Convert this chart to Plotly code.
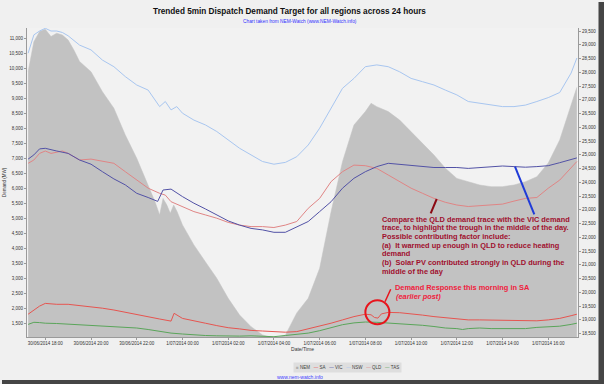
import plotly.graph_objects as go

# ---------------- data ----------------
NEM_TIME = ["30 17:15","30 17:30","30 17:45","30 18:00","30 18:15","30 18:30","30 18:45","30 19:00","30 19:15","30 19:30",
            "30 20:00","30 20:30","30 21:00","30 21:30","30 22:00","30 22:30","30 22:48","30 23:00","30 23:09","30 23:19",
            "30 23:28","30 23:37","30 23:46","01 00:00","01 00:30","01 01:00","01 01:30","01 02:00","01 02:30","01 03:00",
            "01 03:30","01 04:00","01 04:30","01 05:00","01 05:30","01 06:00","01 06:30","01 07:00","01 07:30","01 08:00",
            "01 08:15","01 08:30","01 09:00","01 09:30","01 10:00","01 10:30","01 11:00","01 11:30","01 12:00","01 12:30",
            "01 13:00","01 13:30","01 14:00","01 14:30","01 15:00","01 15:30","01 16:00","01 16:30","01 17:00","01 17:15"]
NEM_MW = [28020, 29110, 29480, 29560, 29300, 29420, 29350, 29170, 28810, 28390,
          28020, 27290, 26690, 25720, 24870, 23900, 23290, 22810, 23410, 23170,
          22870, 23170, 22930, 22450, 21720, 21110, 20510, 19780, 19170, 18750,
          18450, 18330, 18440, 19250, 19780, 20870, 22930, 24750, 26080, 26570,
          26870, 26750, 26570, 26260, 25840, 25420, 24990, 24510, 24140, 24020,
          23900, 23840, 23840, 23900, 24020, 24200, 24700, 25540, 26800, 27450]

NSW_TIME = ["30 17:15","30 17:30","30 17:45","30 18:00","30 18:15","30 18:30","30 18:45","30 19:00","30 19:30","30 20:00",
            "30 20:30","30 21:00","30 21:30","30 22:00","30 22:30","30 23:00","30 23:15","30 23:30","30 23:45","01 00:00",
            "01 00:30","01 01:00","01 01:30","01 02:00","01 02:30","01 03:00","01 03:30","01 04:00","01 04:30","01 05:00",
            "01 05:30","01 06:00","01 06:30","01 07:00","01 07:30","01 08:00","01 08:30","01 09:00","01 09:30","01 10:00",
            "01 10:30","01 11:00","01 11:30","01 12:00","01 12:30","01 13:00","01 13:30","01 14:00","01 14:30","01 15:00",
            "01 15:30","01 16:00","01 16:30","01 17:00","01 17:15"]
NSW_MW = [10510, 11120, 11250, 11340, 11250, 11250, 11200, 11090, 10780, 10620,
          10280, 10060, 9730, 9450, 9280, 8730, 8900, 8620, 8730, 8510,
          8280, 8120, 7900, 7620, 7340, 7120, 6900, 6810, 6870, 7060,
          7450, 8010, 8670, 9340, 9670, 10060, 10120, 10060, 9890, 9670,
          9560, 9450, 9280, 9120, 8900, 8840, 8780, 8730, 8730, 8780,
          8900, 9030, 9200, 9850, 10350]

VIC_TIME = ["30 17:15","30 17:30","30 17:45","30 18:00","30 18:30","30 19:00","30 19:30","30 20:00","30 20:30","30 21:00",
            "30 21:30","30 22:00","30 22:30","30 22:55","30 23:09","30 23:30","01 00:00","01 00:30","01 01:00","01 01:30",
            "01 02:00","01 02:30","01 03:00","01 03:30","01 04:00","01 04:30","01 05:00","01 05:30","01 06:00","01 06:30",
            "01 07:00","01 07:30","01 08:00","01 08:30","01 09:00","01 09:30","01 10:00","01 10:30","01 11:00","01 11:30",
            "01 12:00","01 12:30","01 13:00","01 13:30","01 14:00","01 14:30","01 15:00","01 15:30","01 16:00","01 16:30",
            "01 17:00","01 17:15"]
VIC_MW = [6980, 7120, 7320, 7340, 7250, 7170, 6950, 6810, 6560, 6320,
          6120, 5840, 5700, 5570, 5950, 5980, 5730, 5510, 5320, 5120,
          4920, 4780, 4670, 4620, 4540, 4540, 4730, 4900, 5230, 5560,
          6010, 6340, 6560, 6730, 6840, 6810, 6760, 6730, 6700, 6700,
          6700, 6670, 6700, 6730, 6750, 6730, 6710, 6730, 6760, 6860,
          6960, 7020]

QLD_TIME = ["30 17:15","30 17:30","30 17:45","30 18:00","30 18:15","30 18:30","30 18:45","30 19:00","30 19:30","30 20:00",
            "30 20:30","30 21:00","30 21:30","30 22:00","30 22:30","30 23:00","30 23:15","30 23:30","01 00:00","01 00:30",
            "01 01:00","01 01:30","01 02:00","01 02:30","01 03:00","01 03:30","01 04:00","01 04:30","01 05:00","01 05:30",
            "01 06:00","01 06:30","01 07:00","01 07:30","01 08:00","01 08:30","01 09:00","01 09:30","01 10:00","01 10:30",
            "01 11:00","01 11:30","01 12:00","01 12:30","01 13:00","01 13:30","01 14:00","01 14:30","01 15:00","01 15:30",
            "01 16:00","01 16:30","01 17:00","01 17:15"]
QLD_MW = [6840, 6950, 7170, 7250, 7170, 7210, 7250, 7170, 6950, 6980,
          6900, 6840, 6560, 6280, 6010, 5840, 5780, 5560, 5400, 5230,
          5120, 5010, 4870, 4780, 4730, 4730, 4700, 4780, 4900, 5340,
          5670, 6230, 6560, 6780, 6760, 6670, 6450, 6230, 6010, 5840,
          5670, 5540, 5450, 5400, 5430, 5450, 5480, 5580, 5670, 5700,
          6010, 6280, 6670, 6900]

SA_TIME = ["30 17:15","30 17:30","30 17:45","30 18:00","30 18:30","30 19:00","30 19:30","30 20:00","30 20:30","30 21:00",
           "30 21:30","30 22:00","30 22:30","30 23:00","30 23:30","30 23:38","01 00:00","01 00:30","01 01:00","01 01:30",
           "01 02:00","01 02:30","01 03:00","01 03:30","01 04:00","01 04:30","01 05:00","01 05:30","01 06:00","01 06:30",
           "01 07:00","01 07:30","01 08:00","01 08:15","01 08:24","01 08:33","01 08:42","01 09:00","01 09:30","01 10:00",
           "01 10:30","01 11:00","01 11:30","01 12:00","01 12:30","01 13:00","01 13:30","01 14:00","01 14:30","01 15:00",
           "01 15:30","01 16:00","01 16:30","01 17:00","01 17:15"]
SA_MW = [1810, 1950, 2080, 2170, 2140, 2140, 2100, 2050, 2010, 1950,
         1870, 1810, 1730, 1650, 1580, 1840, 1670, 1580, 1510, 1430,
         1360, 1320, 1270, 1250, 1230, 1210, 1230, 1320, 1400, 1510,
         1620, 1730, 1810, 1790, 1700, 1680, 1820, 1870, 1860, 1830,
         1780, 1730, 1700, 1650, 1620, 1620, 1610, 1600, 1610, 1580,
         1590, 1620, 1670, 1760, 1810]

TAS_TIME = ["30 17:15","30 17:30","30 17:45","30 18:00","30 18:30","30 19:00","30 19:30","30 20:00","30 20:30","30 21:00",
            "30 21:30","30 22:00","30 22:30","30 23:00","30 23:30","01 00:00","01 00:30","01 01:00","01 01:30","01 02:00",
            "01 02:30","01 03:00","01 03:30","01 04:00","01 04:30","01 05:00","01 05:30","01 06:00","01 06:30","01 07:00",
            "01 07:30","01 08:00","01 08:30","01 09:00","01 09:30","01 10:00","01 10:30","01 11:00","01 11:30","01 12:00",
            "01 12:15","01 12:30","01 13:00","01 13:30","01 14:00","01 14:30","01 15:00","01 15:30","01 16:00","01 16:30",
            "01 17:00","01 17:15"]
TAS_MW = [1470, 1540, 1530, 1510, 1500, 1480, 1470, 1450, 1430, 1400,
          1370, 1350, 1300, 1240, 1180, 1150, 1120, 1100, 1090, 1080,
          1080, 1090, 1080, 1060, 1100, 1140, 1180, 1260, 1350, 1460,
          1520, 1550, 1540, 1520, 1500, 1480, 1440, 1400, 1350, 1330,
          1300, 1330, 1350, 1330, 1330, 1330, 1330, 1370, 1380, 1410,
          1470, 1510]

X_TICKS = ["30 18:00","30 20:00","30 22:00","01 00:00","01 02:00","01 04:00",
           "01 06:00","01 08:00","01 10:00","01 12:00","01 14:00","01 16:00"]
X_TICK_LABELS = ["30/06/2014 18:00","30/06/2014 20:00","30/06/2014 22:00","1/07/2014 00:00",
                 "1/07/2014 02:00","1/07/2014 04:00","1/07/2014 06:00","1/07/2014 08:00",
                 "1/07/2014 10:00","1/07/2014 12:00","1/07/2014 14:00","1/07/2014 16:00"]
LEFT_TICKS = list(range(1500, 11001, 500))
RIGHT_TICKS = list(range(18500, 29501, 500))

NOTE_LINES = ["Compare the QLD demand trace with the VIC demand",
              "trace, to highlight the trough in the middle of the day.",
              "Possible contributing factor include:",
              "(a)  It warmed up enough in QLD to reduce heating",
              "demand",
              "(b)  Solar PV contributed strongly in QLD during the",
              "middle of the day"]

# ---------------- helpers ----------------
def ts(s):
    d, hm = s.split()
    return ("2014-06-30 " if d == "30" else "2014-07-01 ") + hm

W, H = 604, 384
L, R, T, B = 27, 578, 28, 337          # plot area in pixels
def px(x): return (x - L) / (R - L)
def py(y): return (B - y) / (B - T)

FONT = "Liberation Sans, Arial, sans-serif"
COL = dict(NEM="#c2c2c2", SA="#e65550", VIC="#5252a6", NSW="#a8c6f0", QLD="#e08585", TAS="#5aa55a")

fig = go.Figure()
fig.add_trace(go.Scatter(x=[ts(t) for t in NEM_TIME], y=NEM_MW, name="NEM", yaxis="y",
                         mode="lines", fill="tozeroy", fillcolor=COL["NEM"],
                         line=dict(color=COL["NEM"], width=0.5)))
for name, tt, vv in [("SA", SA_TIME, SA_MW), ("TAS", TAS_TIME, TAS_MW), ("NSW", NSW_TIME, NSW_MW),
                     ("QLD", QLD_TIME, QLD_MW), ("VIC", VIC_TIME, VIC_MW)]:
    fig.add_trace(go.Scatter(x=[ts(t) for t in tt], y=vv, name=name, yaxis="y2",
                             mode="lines", line=dict(color=COL[name], width=1)))

axis_common = dict(showgrid=False, zeroline=False, showline=True, linecolor="#9a9a9a", linewidth=1,
                   ticks="outside", ticklen=2, tickcolor="#9a9a9a",
                   tickfont=dict(size=4.5, color="#333333", family=FONT), automargin=False)

fig.update_layout(
    width=W, height=H,
    margin=dict(l=L, r=W - R, t=T, b=H - B, pad=0),
    paper_bgcolor="#f0f0f0", plot_bgcolor="#f2f2f2",
    showlegend=False,
    font=dict(family=FONT),
    title=dict(text="<b>Trended 5min Dispatch Demand Target for all regions across 24 hours</b>",
               font=dict(size=8.2, color="#111111", family=FONT),
               x=289.5 / W, xref="container", xanchor="center",
               y=1 - 11 / H, yref="container", yanchor="middle"),
    xaxis=dict(type="date", range=["2014-06-30 17:12", "2014-07-01 17:18"],
               tickmode="array", tickvals=[ts(t) for t in X_TICKS], ticktext=X_TICK_LABELS,
               title=dict(text="Date/Time", font=dict(size=5, color="#333333"), standoff=1),
               **axis_common),
    yaxis=dict(side="right", range=[18373, 29609], tickmode="array", tickvals=RIGHT_TICKS,
               ticktext=[f"{v:,}" for v in RIGHT_TICKS], **axis_common),
    yaxis2=dict(side="left", overlaying="y", range=[1050, 11350], tickmode="array", tickvals=LEFT_TICKS,
                ticktext=[f"{v:,}" for v in LEFT_TICKS],
                title=dict(text="Demand (MW)", font=dict(size=4.5, color="#333333"), standoff=2),
                **axis_common),
)

ann = []
ann.append(dict(xref="paper", yref="paper", x=px(299.5), y=py(21.5), text="Chart taken from NEM-Watch (www.NEM-Watch.info)",
                showarrow=False, xanchor="center", yanchor="middle", font=dict(size=4.8, color="#3030ff")))
NOTE_Y = [219.3, 227.7, 236.0, 245.0, 253.3, 262.3, 271.0]
for txt, yy in zip(NOTE_LINES, NOTE_Y):
    ann.append(dict(xref="paper", yref="paper", x=px(380), y=py(yy), text="<b>" + txt + "</b>",
                    showarrow=False, xanchor="left", yanchor="middle",
                    font=dict(size=7.4, color="#a0102e")))
ann.append(dict(xref="paper", yref="paper", x=px(393.3), y=py(287.3), text="<b>Demand Response this morning in SA</b>",
                showarrow=False, xanchor="left", yanchor="middle", font=dict(size=7.4, color="#f0203c")))
ann.append(dict(xref="paper", yref="paper", x=px(394.3), y=py(296.7), text="<b><i>(earlier post)</i></b>",
                showarrow=False, xanchor="left", yanchor="middle", font=dict(size=7.4, color="#f0203c")))

sp = "\u00a0"
leg_items = [("NEM", "■"), ("SA", "—"), ("VIC", "—"), ("NSW", "—"), ("QLD", "—"), ("TAS", "—")]
leg_text = (sp * 3).join(f'<span style="color:{COL[n] if n != "NEM" else "#b0b0b0"}">{s}</span>{sp}{n}'
                          for n, s in leg_items)
ann.append(dict(xref="paper", yref="paper", x=px(347.7), y=py(367.5), text=leg_text,
                showarrow=False, xanchor="center", yanchor="middle", bgcolor="#dedede", borderpad=2,
                font=dict(size=4.5, color="#404040")))
ann.append(dict(xref="paper", yref="paper", x=px(299.7), y=py(376.5), text="www.nem-watch.info",
                showarrow=False, xanchor="center", yanchor="middle", font=dict(size=5, color="#4040ff")))
fig.update_layout(annotations=ann)

shapes = [
    # pointer to QLD trace
    dict(type="line", xref="paper", yref="paper", x0=px(430.7), y0=py(213.3), x1=px(436.7), y1=py(199),
         line=dict(color="#8b0a14", width=2)),
    # pointer to VIC trace
    dict(type="line", xref="paper", yref="paper", x0=px(515), y0=py(166.7), x1=px(534.3), y1=py(214.3),
         line=dict(color="#1f3bd8", width=2)),
    # circle around SA demand response dip
    dict(type="circle", xref="x", yref="y2", x0="2014-07-01 08:00", x1="2014-07-01 09:03", y0=1474, y1=2274,
         line=dict(color="#e8141c", width=2)),
    dict(type="line", xref="paper", yref="paper", x0=px(385), y0=py(301.7), x1=px(390.7), y1=py(289.3),
         line=dict(color="#e8141c", width=1.5)),
    # frame shadow
    dict(type="rect", xref="paper", yref="paper", x0=px(598.5), x1=px(605), y0=py(385), y1=py(2),
         fillcolor="#454545", line=dict(width=0), layer="above"),
    dict(type="rect", xref="paper", yref="paper", x0=px(2), x1=px(605), y0=py(385), y1=py(380),
         fillcolor="#454545", line=dict(width=0), layer="above"),
]
fig.update_layout(shapes=shapes)

fig.write_html("out.html", config={"displayModeBar": False},
               post_script="document.body.style.margin='0';document.body.style.overflow='hidden';")
